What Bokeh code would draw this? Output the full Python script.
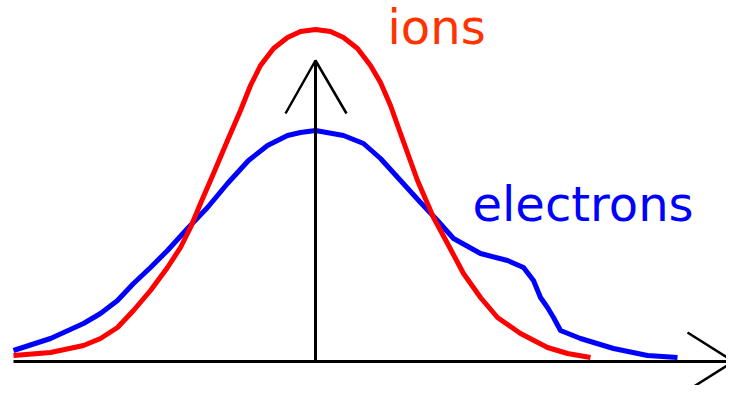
from bokeh.plotting import figure
from bokeh.models import Range1d
from bokeh.core.properties import value
from bokeh.embed import file_html
from bokeh.resources import INLINE

# Ion distribution (red)
ion_v = [-3.02, -2.65, -2.32, -2.15, -1.98, -1.82, -1.65, -1.48, -1.35, -1.25,
         -1.15, -1.02, -0.88, -0.75, -0.65, -0.55, -0.42, -0.28, -0.15, 0.00,
         0.15, 0.28, 0.42, 0.55, 0.65, 0.75, 0.85, 1.02, 1.18, 1.32,
         1.48, 1.65, 1.82, 2.05, 2.32, 2.52, 2.75]
ion_f = [0.06, 0.09, 0.16, 0.23, 0.34, 0.51, 0.71, 0.94, 1.14, 1.34,
         1.58, 1.88, 2.21, 2.51, 2.76, 2.96, 3.13, 3.24, 3.30, 3.32,
         3.30, 3.24, 3.13, 2.96, 2.79, 2.56, 2.28, 1.81, 1.44, 1.18,
         0.88, 0.64, 0.44, 0.28, 0.14, 0.08, 0.04]

# Electron distribution (blue)
ele_v = [-3.02, -2.65, -2.32, -2.15, -1.98, -1.82, -1.65, -1.48, -1.28, -1.08,
         -0.88, -0.67, -0.48, -0.28, -0.15, 0.00, 0.28, 0.48, 0.65, 0.85,
         1.05, 1.22, 1.38, 1.65, 1.92, 2.08, 2.18, 2.25, 2.32, 2.38,
         2.45, 2.65, 2.98, 3.32, 3.62]
ele_f = [0.11, 0.23, 0.38, 0.48, 0.61, 0.78, 0.94, 1.11, 1.33, 1.54,
         1.78, 2.01, 2.16, 2.26, 2.29, 2.31, 2.26, 2.18, 2.03, 1.81,
         1.59, 1.41, 1.23, 1.08, 1.01, 0.94, 0.81, 0.64, 0.54, 0.44,
         0.31, 0.23, 0.13, 0.06, 0.04]

# Axes (with arrowheads)
h_axis_x = [-3.02, 4.18]
h_axis_y = [0.0, 0.0]
v_axis_x = [0.0, 0.0]
v_axis_y = [0.0, 3.01]
v_head_x = [-0.30, 0.0, 0.31]
v_head_y = [2.48, 3.01, 2.48]
h_head_x = [3.72, 4.18, 3.72]
h_head_y = [0.29, 0.0, -0.29]

labels = ["ions", "electrons"]
label_x = [0.72, 1.57]
label_y = [3.35, 1.58]
label_colors = ["#FF3300", "#0000FF"]

p = figure(width=726, height=385, output_backend="svg", toolbar_location=None,
           x_range=Range1d(-3.15, 4.11), y_range=Range1d(-0.24, 3.61),
           min_border=0, outline_line_color=None)
p.axis.visible = False
p.grid.visible = False
p.background_fill_color = "white"
p.border_fill_color = "white"

p.line(ele_v, ele_f, line_color="#0000FF", line_width=5, line_join="round")
p.line(ion_v, ion_f, line_color="#FF0000", line_width=5, line_join="round")

p.line(h_axis_x, h_axis_y, line_color="black", line_width=3)
p.line(v_axis_x, v_axis_y, line_color="black", line_width=3)
p.line(v_head_x, v_head_y, line_color="black", line_width=2.5)
p.line(h_head_x, h_head_y, line_color="black", line_width=2.5)

for t, x, y, c in zip(labels, label_x, label_y, label_colors):
    p.text(x=[x], y=[y], text=[t], text_color=c, text_font=value("DejaVu Sans"),
           text_font_size="48px", text_align="left", text_baseline="alphabetic")

open("out.html", "w").write(file_html(p, INLINE))
